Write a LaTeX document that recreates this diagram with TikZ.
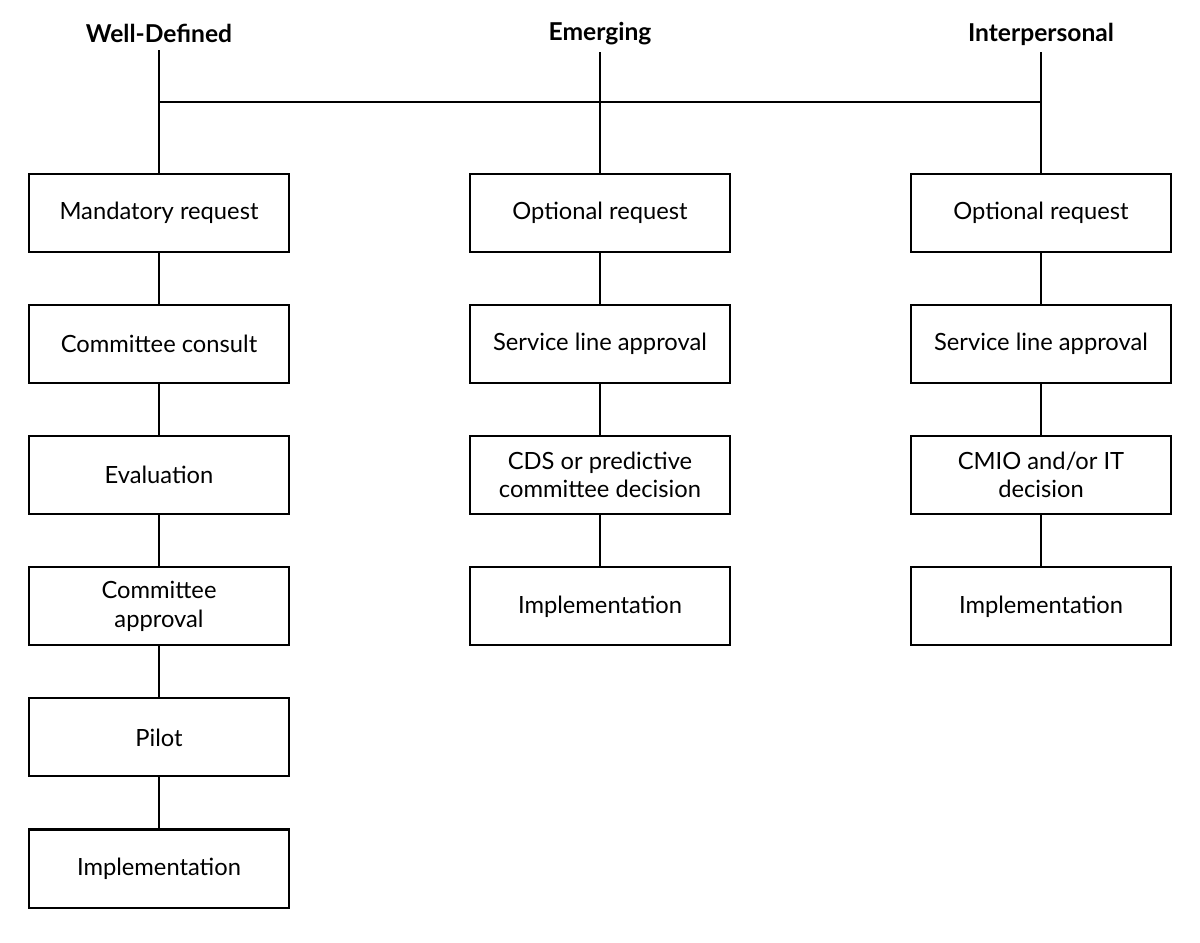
\documentclass[tikz,border=0pt]{standalone}
\usepackage{fontspec}
\setmainfont{Lato}
\usetikzlibrary{positioning}

\begin{document}
\begin{tikzpicture}[
    stage/.style={draw, line width=1.2pt, minimum width=5.2cm, minimum height=1.56cm, align=center, font=\fontsize{13.5}{16}\selectfont, inner sep=2pt},
    head/.style={font=\fontsize{14}{16}\selectfont\bfseries, inner sep=1pt},
    link/.style={line width=1.2pt},
]
\useasboundingbox (0,0) rectangle (24,-18.86);

% Headers
\node[head] (hwell) at (3.18,-0.66) {Well-Defined};
\node[head] (hemer) at (12.0,-0.68) {Emerging};
\node[head] (hinter) at (20.82,-0.68) {Interpersonal};

% Well-defined column
\node[stage] (w1) at (3.18,-4.26) {Mandatory request};
\node[stage, below=1.02cm of w1] (w2) {Committee consult};
\node[stage, below=1.02cm of w2] (w3) {Evaluation};
\node[stage, below=1.02cm of w3] (w4) {Committee\\approval};
\node[stage, below=1.02cm of w4] (w5) {Pilot};
\node[stage, below=1.02cm of w5] (w6) {Implementation};

% Emerging column
\node[stage] (e1) at (12.0,-4.26) {Optional request};
\node[stage, below=1.02cm of e1] (e2) {Service line approval};
\node[stage, below=1.02cm of e2] (e3) {CDS or predictive\\committee decision};
\node[stage, below=1.02cm of e3] (e4) {Implementation};

% Interpersonal column
\node[stage] (i1) at (20.82,-4.26) {Optional request};
\node[stage, below=1.02cm of i1] (i2) {Service line approval};
\node[stage, below=1.02cm of i2] (i3) {CMIO and/or IT\\decision};
\node[stage, below=1.02cm of i3] (i4) {Implementation};

% Connectors
\coordinate (jwell) at (3.18,-2.04);
\coordinate (jinter) at (20.82,-2.04);
\draw[link] ([yshift=-0.12cm]hwell.south) -- (w1.north);
\draw[link] ([yshift=-0.1cm]hemer.south) -- (e1.north);
\draw[link] ([yshift=-0.1cm]hinter.south) -- (i1.north);
\draw[link] (jwell) -- (jinter);
\foreach \a/\b in {w1/w2,w2/w3,w3/w4,w4/w5,w5/w6,e1/e2,e2/e3,e3/e4,i1/i2,i2/i3,i3/i4}
  \draw[link] (\a.south) -- (\b.north);
\end{tikzpicture}
\end{document}
